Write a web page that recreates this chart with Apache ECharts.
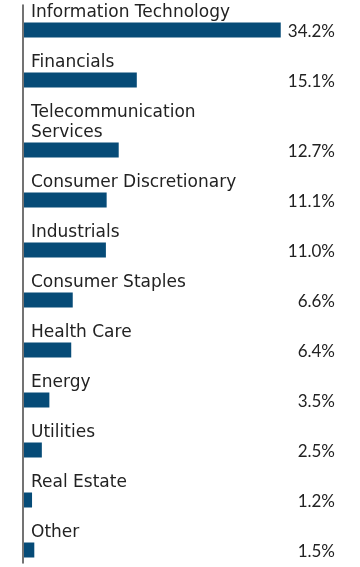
<!DOCTYPE html>
<html><head><meta charset="utf-8">
<script src="https://cdn.jsdelivr.net/npm/echarts@6/dist/echarts.min.js"></script>
<style>html,body{margin:0;padding:0;background:#fff}#c{width:360px;height:567px}</style>
</head><body><div id="c"></div>
<script>
const categories = ["Information Technology","Financials","Telecommunication\nServices","Consumer Discretionary","Industrials","Consumer Staples","Health Care","Energy","Utilities","Real Estate","Other"];
const values = [34.2,15.1,12.7,11.1,11.0,6.6,6.4,3.5,2.5,1.2,1.5];
const valueLabels = ["34.2%","15.1%","12.7%","11.1%","11.0%","6.6%","6.4%","3.5%","2.5%","1.2%","1.5%"];

// row slot positions derived from how many lines each category label uses
const positions = [];
let extra = 0;
categories.forEach((c, i) => {
  extra += c.split("\n").length - 1;
  positions.push(i + 0.5 + 0.4 * extra);
});
const xMax = 41.4;
const yMax = 11.16;
const FONT = '17px "DejaVu Sans"';
const NUM_FONT = '17px Lato';
const TEXT = '#222';
const BAR = '#064b77';

const chart = echarts.init(document.getElementById('c'));
chart.setOption({
  animation: false,
  grid: {left: 23, right: 25, top: 5, bottom: 4},
  xAxis: {type: 'value', min: 0, max: xMax, show: false},
  yAxis: {type: 'value', inverse: true, min: 0, max: yMax,
    axisLine: {show: true, onZero: false, lineStyle: {color: '#444', width: 1.5}},
    axisTick: {show: false}, axisLabel: {show: false}, splitLine: {show: false}},
  series: [{
    type: 'custom',
    data: values.map((v, i) => [v, positions[i], i]),
    encode: {x: 0, y: 1},
    clip: false,
    renderItem(params, api) {
      const v = api.value(0), p = api.value(1), idx = api.value(2);
      const s = api.coord([0, p]), e = api.coord([v, p]), r = api.coord([xMax, p]);
      const h = 15;
      const top = s[1] - h / 2;
      return {type: 'group', children: [
        {type: 'rect', shape: {x: s[0] + 1, y: top, width: e[0] - s[0] - 1, height: h}, style: {fill: BAR}},
        {type: 'text', style: {text: categories[idx], x: s[0] + 8, y: top, align: 'left', verticalAlign: 'bottom', font: FONT, fill: TEXT, lineHeight: 20}},
        {type: 'text', style: {text: valueLabels[idx], x: r[0], y: s[1] + 2, align: 'right', verticalAlign: 'middle', font: NUM_FONT, fill: TEXT}}
      ]};
    }
  }]
});
</script></body></html>
